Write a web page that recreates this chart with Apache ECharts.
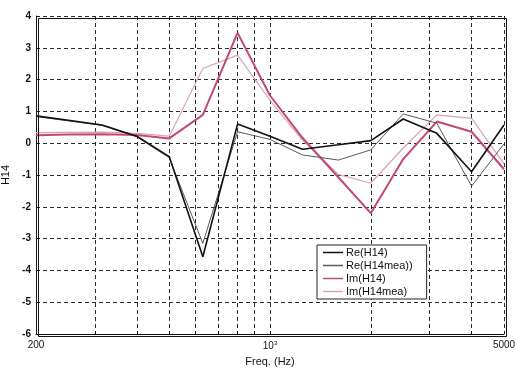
<!DOCTYPE html>
<html>
<head>
<meta charset="utf-8">
<script src="https://cdn.jsdelivr.net/npm/echarts@6/dist/echarts.min.js"></script>
<style>
  html, body { margin: 0; padding: 0; background: #fff; }
  #chart { width: 515px; height: 369px; }
</style>
</head>
<body>
<div id="chart"></div>
<script>
// One-third octave band centre frequencies (Hz)
const freqs = [200, 250, 315, 400, 500, 630, 800, 1000, 1250, 1600, 2000, 2500, 3150, 4000, 5000];

// Transfer function H14: real and imaginary parts, model vs. measured
const reH14    = [0.86, 0.72, 0.57, 0.22, -0.42, -3.57, 0.60, 0.22, -0.19, -0.05, 0.08, 0.76, 0.31, -0.90, 0.57];
const reH14mea = [0.84, 0.70, 0.56, 0.20, -0.46, -3.15, 0.36, 0.12, -0.37, -0.53, -0.21, 0.92, 0.63, -1.35, -0.02];
const imH14    = [0.25, 0.27, 0.28, 0.26, 0.15, 0.89, 3.47, 1.50, 0.17, -1.07, -2.20, -0.50, 0.68, 0.36, -0.82];
const imH14mea = [0.33, 0.34, 0.35, 0.31, 0.22, 2.35, 2.77, 1.35, 0.10, -0.98, -1.26, -0.15, 0.89, 0.78, -0.65];

// Axis ticks
const xGridValues = [200, 300, 400, 500, 600, 700, 800, 900, 1000, 2000, 3000, 4000, 5000];
const xLabelValues = [200, 1000, 5000];
const yTicks = [-6, -5, -4, -3, -2, -1, 0, 1, 2, 3, 4];

const seriesNames = ['Re(H14)', 'Re(H14mea))', 'Im(H14)', 'Im(H14mea)'];
const seriesData = [reH14, reH14mea, imH14, imH14mea];
const seriesStyle = [
  { color: '#111111', width: 1.6 },
  { color: '#5a5a5a', width: 1 },
  { color: '#c24a6c', width: 2 },
  { color: '#d9a3b4', width: 1.2 }
];

const pairs = arr => freqs.map((f, i) => [f, arr[i]]);

const chart = echarts.init(document.getElementById('chart'), null, { renderer: 'canvas' });

const gridDash = { color: '#2a2a2a', width: 1, type: [4, 3] };

chart.setOption({
  animation: false,
  backgroundColor: '#fff',
  textStyle: { fontFamily: 'Liberation Sans, Arial, sans-serif' },
  grid: { left: 36, right: 11, top: 16, bottom: 35, show: false, containLabel: false, outerBoundsMode: 'none' },
  legend: {
    orient: 'vertical',
    left: 317,
    top: 245,
    data: seriesNames,
    icon: 'rect',
    itemWidth: 20,
    itemHeight: 1.5,
    itemGap: 0,
    padding: [1, 14, 1, 6],
    backgroundColor: '#fff',
    borderColor: '#222',
    borderWidth: 1,
    borderRadius: 0,
    textStyle: { fontSize: 11, lineHeight: 13, color: '#111', padding: [0, 0, 0, -2] }
  },
  xAxis: {
    type: 'log',
    logBase: 10,
    min: 200,
    max: 5000,
    name: 'Freq. (Hz)',
    nameLocation: 'middle',
    nameGap: 22,
    nameTextStyle: { fontSize: 11, color: '#111' },
    axisLine: { show: true, onZero: false, lineStyle: { color: '#111', width: 1 } },
    axisTick: { show: true, inside: true, length: 3, customValues: xGridValues, lineStyle: { color: '#111' } },
    axisLabel: {
      customValues: xLabelValues,
      fontSize: 10,
      color: '#111',
      margin: 6,
      formatter: v => (Math.abs(v - 1000) < 1e-6 ? '{b|10}{s|3}' : String(Math.round(v))),
      rich: {
        b: { fontSize: 10, color: '#111' },
        s: { fontSize: 6, color: '#111', verticalAlign: 'top', padding: [0, 0, 6, 0] }
      }
    },
    splitLine: { show: true, lineStyle: gridDash }
  },
  yAxis: {
    type: 'value',
    min: -6,
    max: 4,
    interval: 1,
    name: 'H14',
    nameLocation: 'middle',
    nameGap: 19,
    nameRotate: 90,
    nameTextStyle: { fontSize: 11, color: '#111' },
    axisLine: { show: true, onZero: false, lineStyle: { color: '#111', width: 1 } },
    axisTick: { show: true, inside: true, length: 3, lineStyle: { color: '#111' } },
    axisLabel: { fontSize: 10, color: '#111', margin: 5, fontWeight: 'bold',
      formatter: v => (yTicks.includes(v) ? String(v) : '') },
    splitLine: { show: true, lineStyle: gridDash }
  },
  series: seriesNames.map((name, k) => ({
    name,
    type: 'line',
    data: pairs(seriesData[k]),
    symbol: 'none',
    color: seriesStyle[k].color,
    lineStyle: { color: seriesStyle[k].color, width: seriesStyle[k].width },
    z: 4 - k
  })),
  graphic: [{
    type: 'rect',
    left: 36, top: 16,
    shape: { width: 468, height: 318 },
    style: { fill: 'none', stroke: '#111', lineWidth: 1 },
    silent: true,
    z: 10
  }]
});
</script>
</body>
</html>
